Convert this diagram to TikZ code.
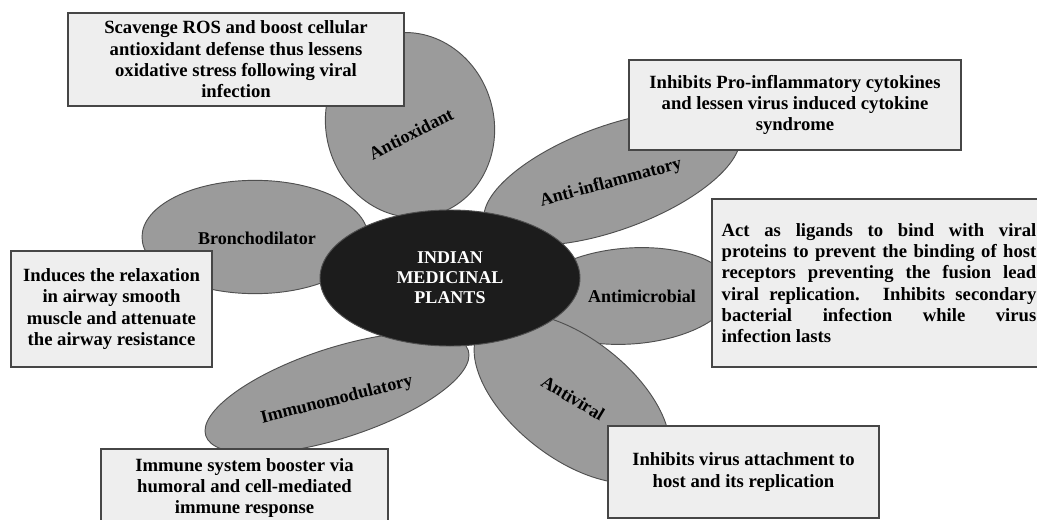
\documentclass[tikz,border=0pt]{standalone}
\usepackage{fontspec}
\setmainfont{Liberation Serif}
\usetikzlibrary{shapes.geometric}
\definecolor{petalgray}{RGB}{155,155,155}
\definecolor{petalline}{RGB}{80,80,80}
\definecolor{hubfill}{RGB}{28,28,28}
\definecolor{boxfill}{RGB}{238,238,238}
\definecolor{boxline}{RGB}{70,70,70}
\tikzset{
  petal/.style={ellipse, draw=petalline, line width=0.7pt, fill=petalgray, inner sep=0pt},
  hub/.style={ellipse, draw=petalline, line width=0.7pt, fill=hubfill, inner sep=0pt},
  lbl/.style={font=\fontsize{13.5}{16}\selectfont\bfseries, text=black, inner sep=0pt},
  hubtext/.style={font=\fontsize{13.5}{15}\selectfont\bfseries, text=white, align=center, inner sep=0pt},
  infobox/.style={rectangle, draw=boxline, line width=1pt, fill=boxfill, align=center,
    font=\fontsize{14}{16}\selectfont\bfseries, inner sep=0pt}
}
\begin{document}
\begin{tikzpicture}[x=0.75pt,y=-0.75pt]
\path[use as bounding box, fill=white] (0,0) rectangle (1037,520);
% petals
\node[petal, minimum width=139.5pt, minimum height=126pt, rotate=-75] (pAox) at (410,125) {};
\node[petal, minimum width=202.5pt, minimum height=78pt, rotate=20] (pInf) at (612,178) {};
\node[petal, minimum width=153pt, minimum height=72pt, rotate=4] (pMic) at (630,296) {};
\node[petal, minimum width=172.5pt, minimum height=90pt, rotate=-38] (pVir) at (572,398) {};
\node[petal, minimum width=207pt, minimum height=67.5pt, rotate=18] (pImm) at (337,393) {};
\node[petal, minimum width=169.5pt, minimum height=85pt] (pBro) at (255,237) {};
% hub
\node[hub, minimum width=195pt, minimum height=102pt] (hub) at (450,278) {};
\node[hubtext] (hubt) at (450,278) {INDIAN\\MEDICINAL\\PLANTS};
% petal labels
\node[lbl, rotate=27] (tAox) at (411,134) {Antioxidant};
\node[lbl, rotate=15] (tInf) at (611,183) {Anti-inflammatory};
\node[lbl] (tMic) at (642,296) {Antimicrobial};
\node[lbl, rotate=-31] (tVir) at (573,398) {Antiviral};
\node[lbl, rotate=14] (tImm) at (337,400) {Immunomodulatory};
\node[lbl] (tBro) at (257,238) {Bronchodilator};
% boxes
\node[infobox, minimum width=252pt, minimum height=69.75pt] (bAox) at (236,59.5)
  {Scavenge ROS and boost cellular\\antioxidant defense thus lessens\\oxidative stress following viral\\infection};
\node[infobox, minimum width=249pt, minimum height=67.5pt] (bInf) at (795,105)
  {Inhibits Pro-inflammatory cytokines\\and lessen virus induced cytokine\\syndrome};
\node[rectangle, draw=boxline, line width=1pt, fill=boxfill, inner sep=0pt,
      font=\fontsize{14}{16}\selectfont\bfseries, minimum width=250.5pt, minimum height=126pt] (bMic) at (879,283)
  {\vbox{\hsize=236pt
   \hbox to 236pt{Act as ligands to bind with viral}
   \hbox to 236pt{proteins to prevent the binding of host}
   \hbox to 236pt{receptors preventing the fusion lead}
   \hbox to 236pt{viral replication. Inhibits secondary}
   \hbox to 236pt{bacterial infection while virus}
   \hbox to 236pt{infection lasts\hfil}}};
\node[infobox, minimum width=150.75pt, minimum height=87pt] (bBro) at (111.5,309)
  {Induces the relaxation\\in airway smooth\\muscle and attenuate\\the airway resistance};
\node[infobox, minimum width=215.25pt, minimum height=58.5pt] (bImm) at (244.5,488)
  {Immune system booster via\\humoral and cell-mediated\\immune response};
\node[infobox, minimum width=203.25pt, minimum height=69pt] (bVir) at (743.5,472)
  {Inhibits virus attachment to\\host and its replication};
\end{tikzpicture}
\end{document}
